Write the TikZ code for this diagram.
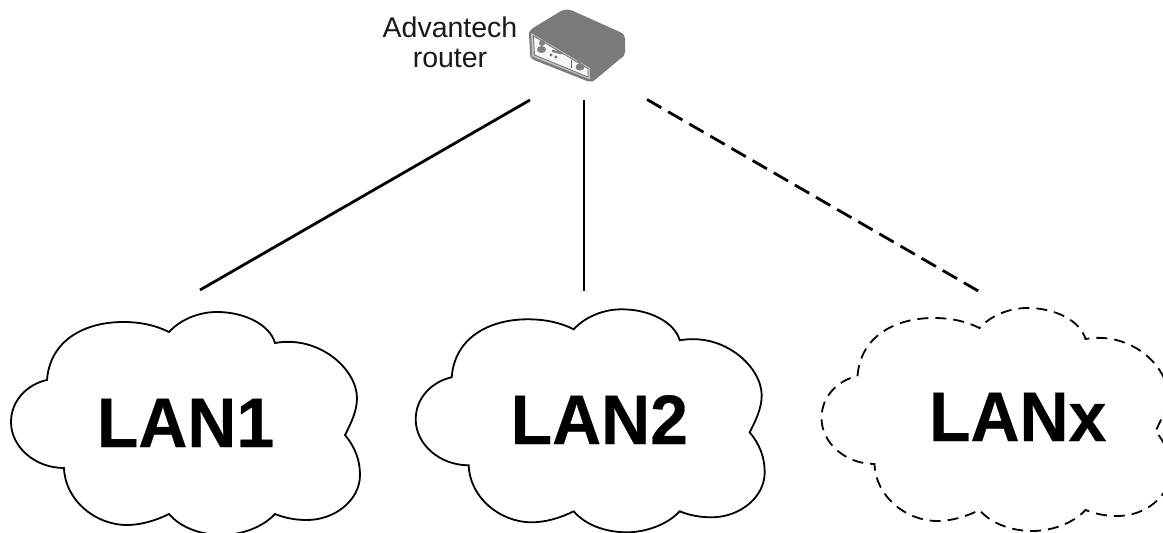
\documentclass[tikz,border=0pt]{standalone}
\usepackage{fontspec}
\setmainfont{Liberation Sans}
\newfontfamily\lanfont[FakeBold=0.4]{Liberation Sans Bold}
\tikzset{
  x=1pt,y=-1pt,
  cloudline/.style={draw=black,line width=1.8pt,line join=miter},
  clouddash/.style={cloudline,dash pattern=on 11pt off 7pt},
  link/.style={draw=black,line width=2.8pt},
  linkdash/.style={link,dash pattern=on 16.5pt off 7.9pt},
  lantext/.style={font=\fontsize{70}{70}\lanfont,anchor=base,inner sep=0pt,xscale=.97},
  routertext/.style={font=\fontsize{28.5}{30}\selectfont,align=center,inner sep=0pt,text=black!90},
}
\newcommand{\cloudshape}{(47,380) .. controls (50,340) and (85,322) .. (123,322)
  .. controls (140,322) and (155,325) .. (169,332)
  .. controls (180,320) and (198,312) .. (217,312)
  .. controls (245,312) and (270,325) .. (275,343)
  .. controls (320,335) and (357,370) .. (357,398)
  .. controls (357,412) and (350,425) .. (345,435)
  .. controls (355,447) and (360,460) .. (360,475)
  .. controls (360,500) and (335,520) .. (307,520)
  .. controls (295,520) and (285,518) .. (275,514)
  .. controls (262,528) and (240,535) .. (222,535)
  .. controls (200,535) and (180,527) .. (169,514)
  .. controls (155,521) and (140,525) .. (127,525)
  .. controls (95,525) and (65,500) .. (64,468)
  .. controls (35,468) and (11,447) .. (11,422)
  .. controls (11,400) and (28,384) .. (47,380) -- cycle}
\begin{document}
\begin{tikzpicture}
\useasboundingbox (0,0) rectangle (1163,533);
\clip (0,0) rectangle (1163,533);
% clouds
\path[cloudline] \cloudshape;
\begin{scope}[shift={(404.7,-2.7)}]\path[cloudline] \cloudshape;\end{scope}
\begin{scope}[shift={(810.5,-4)}]\path[clouddash] \cloudshape;\end{scope}
% labels
\node[lantext] (lan1) at (185.5,447) {LAN1};
\node[lantext] (lan2) at (599.3,444) {LAN2};
\node[lantext] (lanx) at (1017.7,441) {LANx};
\node[routertext] (rtext) at (450,42.5) {Advantech\\router};
% router body
\fill[black!52] (529,33) .. controls (529,31) and (531,30) .. (533,28) -- (561,11)
  .. controls (565,9) and (569,9) .. (573,11) -- (620,32)
  .. controls (624,34) and (625,36) .. (625,39) -- (625,52)
  .. controls (625,55) and (623,57) .. (620,59) -- (596,79)
  .. controls (593,82) and (590,82) .. (587,81) -- (534,60)
  .. controls (531,59) and (530,57) .. (530,54) -- cycle;
% router front panel
\fill[black!25] (531,33) -- (590,68) -- (590,79.5) -- (532,56.5) -- cycle;
\fill[black!3,draw=black!55,line width=.8pt] (533.5,36) -- (588,68.5) -- (588,77) -- (534.5,55) -- cycle;
\fill[black!50] (542,43) circle (3);
\fill[black!50] (541.5,49.5) ellipse (4.5 and 3.5);
\fill[black!50] (580,60) circle (3);
\fill[black!50] (580,67) ellipse (4.5 and 3.5);
\fill[black!50] (552,49.5) -- (562,52) -- (562,54.5) -- (552,52) -- cycle;
\fill[black!55] (551,55) circle (1.6) (556,57) circle (1.6);
\fill[black!60] (570.5,60) rectangle (571.5,68);
% connectors
\coordinate (r1) at (530,100);
\coordinate (r2) at (584,100);
\coordinate (r3) at (647,99.5);
\coordinate (c1) at (200,290);
\coordinate (c2) at (584,291);
\coordinate (c3) at (980,292);
\draw[link] (r1) -- (c1);
\draw[link] (r2) -- (c2);
\draw[linkdash] (r3) -- (c3);
\end{tikzpicture}
\end{document}
